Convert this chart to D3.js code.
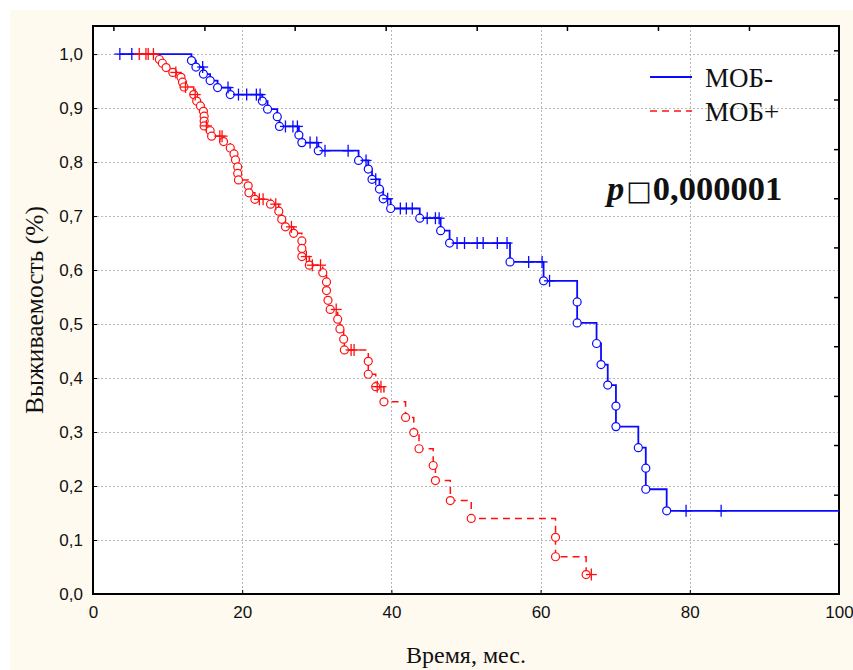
<!DOCTYPE html>
<html><head><meta charset="utf-8">
<script src="https://cdn.jsdelivr.net/npm/d3@7"></script>
<style>body{margin:0;background:#fff}svg{display:block}</style>
</head><body><svg id="c" width="853" height="670"></svg>
<script>
// ---------- data ----------
const xTickValues = [0, 20, 40, 60, 80, 100];
const yTickValues = [0, 0.1, 0.2, 0.3, 0.4, 0.5, 0.6, 0.7, 0.8, 0.9, 1.0];
const seriesNames = ["МОБ-", "МОБ+"];
const axisTitleX = "Время, мес.";
const axisTitleY = "Выживаемость (%)";

// МОБ- (blue): event times and survival after each event
const blueEventT = [13.2, 13.8, 14.8, 15.7, 16.7, 18.4, 22.7, 23.4, 24.7, 25.0, 27.6, 28.0, 30.2,
  35.6, 36.9, 37.4, 38.4, 38.9, 39.9, 43.8, 46.6, 47.8, 55.9, 60.4, 64.9, 64.9, 67.5, 68.1,
  69.0, 70.1, 70.1, 73.1, 74.1, 74.1, 76.9];
const blueEventS = [0.988, 0.976, 0.963, 0.951, 0.938, 0.925, 0.913, 0.898, 0.884, 0.866, 0.850, 0.836, 0.821,
  0.803, 0.787, 0.768, 0.750, 0.732, 0.714, 0.696, 0.673, 0.650, 0.615, 0.580, 0.541, 0.502, 0.464, 0.425,
  0.387, 0.348, 0.310, 0.271, 0.233, 0.194, 0.154];
const blueCensorT = [3.6, 5.2, 14.7, 18.1, 19.5, 20.6, 21.9, 22.4, 25.8, 26.8, 27.4, 29.1, 30.0, 31.1,
  34.2, 36.6, 37.9, 39.5, 41.2, 42.0, 42.8, 44.8, 45.9, 46.4, 48.8, 49.8, 51.5, 52.3, 54.2, 55.5,
  58.4, 60.2, 61.2, 79.5, 84.2];
const blueRange = [3.6, 100];

// МОБ+ (red)
const redEventT = [8.9, 9.3, 9.8, 10.7, 11.8, 12.0, 12.2, 13.5, 13.9, 14.4, 14.8, 14.9, 14.9, 14.9,
  15.7, 15.9, 17.5, 18.4, 18.9, 19.1, 19.4, 19.4, 19.5, 20.8, 20.9, 21.7, 23.8, 24.9, 25.3, 25.8,
  26.9, 28.0, 28.0, 28.0, 29.0, 30.8, 31.3, 31.3, 31.5, 31.8, 32.8, 33.1, 33.6, 33.7, 36.9, 36.9,
  37.9, 39.0, 41.9, 43.0, 43.7, 45.6, 45.9, 47.9, 50.7, 62.0, 62.0, 66.1];
const redEventS = [0.990, 0.983, 0.975, 0.966, 0.957, 0.948, 0.939, 0.925, 0.913, 0.904, 0.894, 0.885, 0.876, 0.867,
  0.858, 0.848, 0.838, 0.826, 0.815, 0.804, 0.791, 0.779, 0.767, 0.756, 0.743, 0.731, 0.722, 0.709, 0.694, 0.680,
  0.668, 0.654, 0.640, 0.625, 0.609, 0.595, 0.578, 0.562, 0.544, 0.527, 0.509, 0.491, 0.472, 0.452, 0.431, 0.407,
  0.384, 0.356, 0.327, 0.299, 0.269, 0.238, 0.210, 0.173, 0.140, 0.105, 0.069, 0.036];
const redCensorT = [6.2, 7.1, 7.4, 8.1, 11.1, 12.4, 13.7, 15.2, 17.0, 17.3, 22.3, 22.8, 24.5, 26.6,
  28.6, 29.4, 30.5, 32.6, 34.6, 35.0, 38.1, 38.6, 66.8];
const redRange = [6.2, 66.8];

const pText = ["p", "\u25A1", "0,000001"];

// ---------- layout ----------
const svg = d3.select("#c");
const W = 853, H = 670;
svg.append("rect").attr("width", W).attr("height", H).attr("fill", "#ffffff");
svg.append("rect").attr("x", 10).attr("y", 10).attr("width", W - 10).attr("height", H - 10).attr("fill", "#fffaf0");

const x = d3.scaleLinear().domain([0, 100]).range([93, 839]);
const y = d3.scaleLinear().domain([0, 1.052]).range([594, 26]);
const [x0, x1] = x.range();
const [yb, yt] = y.range();

svg.append("rect").attr("x", x0).attr("y", yt).attr("width", x1 - x0).attr("height", yb - yt).attr("fill", "#ffffff");

// grid
const grid = svg.append("g").attr("stroke", "#b8b8b8").attr("stroke-width", 1).attr("stroke-dasharray", "2,2");
grid.selectAll("line.h").data(yTickValues.filter(v => v > 0)).join("line")
  .attr("x1", x0).attr("x2", x1).attr("y1", d => Math.round(y(d)) + 0.5).attr("y2", d => Math.round(y(d)) + 0.5);
grid.selectAll("line.v").data(xTickValues.filter(v => v > 0 && v < 100)).join("line")
  .attr("y1", yt).attr("y2", yb).attr("x1", d => Math.round(x(d)) + 0.5).attr("x2", d => Math.round(x(d)) + 0.5);

// axes
const fmt = d => d3.format(".1f")(d).replace(".", ",");
const tickFont = "'Liberation Sans Narrow','Arial Narrow','Liberation Sans',sans-serif";
const yAxis = svg.append("g").attr("transform", `translate(${x0},0)`)
  .call(d3.axisLeft(y).tickValues(yTickValues).tickFormat(fmt).tickSizeInner(-4).tickSizeOuter(0).tickPadding(10));
const xAxis = svg.append("g").attr("transform", `translate(0,${yb})`)
  .call(d3.axisBottom(x).tickValues(xTickValues).tickFormat(d3.format("d")).tickSizeInner(-4).tickSizeOuter(0).tickPadding(12));
[yAxis, xAxis].forEach(a => {
  a.select(".domain").remove();
  a.selectAll("text").attr("font-family", tickFont).attr("font-size", 17).attr("fill", "#111");
  a.selectAll("line").attr("stroke", "#000");
});

// secondary (unlinked) axis ticks on top and right, as in the original
const topTickValues = [2.8, 15.0, 27.1, 39.3, 51.5, 63.6, 75.8, 88.0];
const rightTickValues = [1.006, 0.915, 0.823, 0.732, 0.641, 0.549, 0.458, 0.366, 0.275, 0.183, 0.092];
svg.append("g").selectAll("line").data(topTickValues).join("line")
  .attr("x1", d => x(d)).attr("x2", d => x(d)).attr("y1", yt).attr("y2", yt + 5).attr("stroke", "#000").attr("stroke-width", 1.5);
svg.append("g").selectAll("line").data(rightTickValues).join("line")
  .attr("x1", x1).attr("x2", x1 - 5).attr("y1", d => y(d)).attr("y2", d => y(d)).attr("stroke", "#000").attr("stroke-width", 1.5);

// frame
svg.append("rect").attr("x", x0).attr("y", yt).attr("width", x1 - x0).attr("height", yb - yt)
  .attr("fill", "none").attr("stroke", "#000").attr("stroke-width", 2);

// ---------- curves ----------
function survAt(t, evT, evS) {
  let s = 1;
  for (let i = 0; i < evT.length; i++) { if (evT[i] <= t) s = evS[i]; }
  return s;
}
const line = d3.line().x(d => x(d[0])).y(d => y(d[1])).curve(d3.curveStepAfter);

const series = [
  { name: seriesNames[0], evT: blueEventT, evS: blueEventS, cT: blueCensorT, range: blueRange, color: "#0a0aff", dash: null, w: 1.8 },
  { name: seriesNames[1], evT: redEventT, evS: redEventS, cT: redCensorT, range: redRange, color: "#ff1010", dash: "7,5", w: 1.5 }
];

series.forEach(s => {
  const pts = [[s.range[0], 1]].concat(s.evT.map((t, i) => [t, s.evS[i]]));
  pts.push([s.range[1], s.evS[s.evS.length - 1]]);
  svg.append("path").attr("d", line(pts)).attr("fill", "none")
    .attr("stroke", s.color).attr("stroke-width", s.w).attr("stroke-dasharray", s.dash);
});

series.forEach(s => {
  const g = svg.append("g");
  g.selectAll("circle").data(s.evT.map((t, i) => [t, s.evS[i]])).join("circle")
    .attr("cx", d => x(d[0])).attr("cy", d => y(d[1])).attr("r", 4)
    .attr("fill", "#fff").attr("stroke", s.color).attr("stroke-width", 1.2);
  const c = g.selectAll("g.cens").data(s.cT.map(t => [t, survAt(t, s.evT, s.evS)])).join("g")
    .attr("transform", d => `translate(${x(d[0])},${y(d[1])})`);
  c.append("line").attr("x1", -5.5).attr("x2", 5.5).attr("y1", 0).attr("y2", 0).attr("stroke", s.color).attr("stroke-width", 1.3);
  c.append("line").attr("x1", 0).attr("x2", 0).attr("y1", -6).attr("y2", 6).attr("stroke", s.color).attr("stroke-width", 1.3);
});

// ---------- legend ----------
const serif = "'Liberation Serif','Times New Roman',serif";
const leg = svg.append("g");
series.forEach((s, i) => {
  const ly = 77 + i * 34;
  leg.append("line").attr("x1", 650).attr("x2", 692).attr("y1", ly).attr("y2", ly)
    .attr("stroke", s.color).attr("stroke-width", s.w).attr("stroke-dasharray", s.dash);
  leg.append("text").attr("x", 705).attr("y", ly + 10).attr("font-family", serif).attr("font-size", 27)
    .attr("fill", "#111").text(s.name);
});

const pt = svg.append("text").attr("x", 607).attr("y", 200).attr("font-family", serif)
  .attr("font-size", 34.5).attr("font-weight", "bold").attr("fill", "#111");
pt.append("tspan").attr("font-style", "italic").text(pText[0]);
pt.append("tspan").attr("font-weight", "normal").attr("font-family", "'DejaVu Sans',sans-serif").attr("font-size", 27).attr("dx", 2).text(pText[1]);
pt.append("tspan").attr("dx", 1).text(pText[2]);

// ---------- axis titles ----------
svg.append("text").attr("x", (x0 + x1) / 2).attr("y", 663).attr("text-anchor", "middle")
  .attr("font-family", serif).attr("font-size", 24).attr("fill", "#111").text(axisTitleX);
svg.append("text").attr("transform", `translate(43,${(yt + yb) / 2}) rotate(-90)`).attr("text-anchor", "middle")
  .attr("font-family", serif).attr("font-size", 25.5).attr("fill", "#111").text(axisTitleY);
</script>
</body></html>
